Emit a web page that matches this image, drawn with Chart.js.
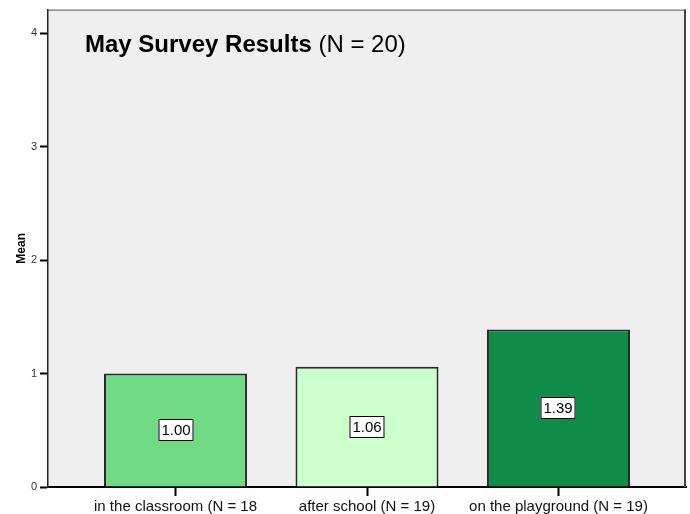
<!DOCTYPE html>
<html>
<head>
<meta charset="utf-8">
<script src="https://cdn.jsdelivr.net/npm/chart.js@4.4.1/dist/chart.umd.min.js"></script>
<style>
  html, body { margin: 0; padding: 0; background: #fff; }
</style>
</head>
<body>
<canvas id="chart" width="690" height="514"></canvas>
<script>
// category labels (the first one is cut off in the original output)
const categories = ['in the classroom (N = 18', 'after school (N = 19)', 'on the playground (N = 19)'];
// mean per category
const means = [1.00, 1.06, 1.39];
// y axis ticks
const yTicks = [0, 1, 2, 3, 4];
const yMax = 4.21;
const barColors = ['#71DA85', '#CCFFCC', '#0F8C47'];
const titleBold = 'May Survey Results';
const titleRest = ' (N = 20)';

const FONT = '"Liberation Sans", Arial, sans-serif';
Chart.defaults.font.family = FONT;

/**
 * grey plot background + top/right frame
 */
const plotFrame = {
    id: 'plotFrame',
    beforeDraw(chart) {
        const a = chart.chartArea;
        const ctx = chart.ctx;
        ctx.save();
        ctx.fillStyle = '#EFEFEF';
        ctx.fillRect(a.left, a.top, a.right - a.left, a.bottom - a.top);
        ctx.restore();
    },
    afterDraw(chart) {
        const a = chart.chartArea;
        const ctx = chart.ctx;
        ctx.save();
        ctx.strokeStyle = '#555';
        ctx.lineWidth = 1;
        ctx.beginPath();
        ctx.moveTo(a.left, a.top + 0.5);
        ctx.lineTo(a.right, a.top + 0.5);
        ctx.stroke();
        ctx.lineWidth = 2;
        ctx.strokeStyle = '#444';
        ctx.beginPath();
        ctx.moveTo(a.right - 1, a.top);
        ctx.lineTo(a.right - 1, a.bottom);
        ctx.stroke();
        ctx.restore();
    }
};

/**
 * title inside the plot: bold part + normal part
 */
const innerTitle = {
    id: 'innerTitle',
    afterDraw(chart) {
        const ctx = chart.ctx;
        ctx.save();
        ctx.fillStyle = '#000';
        ctx.textBaseline = 'alphabetic';
        ctx.textAlign = 'left';
        ctx.font = 'bold 24px ' + FONT;
        ctx.fillText(titleBold, 85, 52);
        const w = ctx.measureText(titleBold).width;
        ctx.font = '24px ' + FONT;
        ctx.fillText(titleRest, 85 + w, 52);
        ctx.restore();
    }
};

/**
 * boxed value labels in the middle of each bar
 */
const valueBoxes = {
    id: 'valueBoxes',
    afterDatasetsDraw(chart) {
        const ctx = chart.ctx;
        const meta = chart.getDatasetMeta(0);
        ctx.save();
        ctx.font = '15px ' + FONT;
        ctx.textAlign = 'center';
        ctx.textBaseline = 'middle';
        meta.data.forEach(function(bar, i) {
            const text = means[i].toFixed(2);
            const cy = Math.round((bar.y + bar.base) / 2);
            const cx = Math.round(bar.x);
            const w = Math.round(ctx.measureText(text).width + 6);
            const h = 22;
            ctx.fillStyle = '#fff';
            ctx.fillRect(cx - w / 2, cy - h / 2, w, h);
            ctx.strokeStyle = '#000';
            ctx.lineWidth = 1;
            ctx.strokeRect(cx - w / 2 + 0.5, cy - h / 2 + 0.5, w - 1, h - 1);
            ctx.fillStyle = '#000';
            ctx.fillText(text, cx, cy + 1);
        });
        ctx.restore();
    }
};

new Chart(document.getElementById('chart'), {
    type: 'bar',
    data: {
        datasets: [{
            data: means.map(function(v, i) { return { x: i, y: v }; }),
            backgroundColor: barColors,
            borderColor: '#2a2a2a',
            borderWidth: 2,
            barPercentage: 0.747,
            categoryPercentage: 1
        }]
    },
    options: {
        responsive: false,
        animation: false,
        devicePixelRatio: 1,
        layout: {
            padding: { top: 9, right: 4, left: 0, bottom: 0 }
        },
        plugins: {
            legend: { display: false },
            tooltip: { enabled: false }
        },
        scales: {
            x: {
                type: 'linear',
                min: -0.666,
                max: 2.666,
                offset: false,
                afterBuildTicks: function(scale) {
                    scale.ticks = categories.map(function(c, i) { return { value: i }; });
                },
                afterFit: function(scale) { scale.height = 27; },
                ticks: {
                    callback: function(value) { return categories[value]; },
                    font: { size: 15 },
                    color: '#111',
                    padding: 2,
                    maxRotation: 0,
                    autoSkip: false
                },
                grid: {
                    offset: false,
                    drawOnChartArea: false,
                    tickLength: 9,
                    tickWidth: 2,
                    tickColor: '#000'
                },
                border: { color: '#000', width: 2 }
            },
            y: {
                min: 0,
                max: yMax,
                afterBuildTicks: function(scale) {
                    scale.ticks = yTicks.map(function(v) { return { value: v }; });
                },
                afterFit: function(scale) { scale.width = 48; },
                ticks: {
                    font: { size: 11 },
                    color: '#333',
                    padding: 3
                },
                grid: {
                    drawOnChartArea: false,
                    tickLength: 8,
                    tickWidth: 2,
                    tickColor: '#000'
                },
                border: { color: '#222', width: 1.5 },
                title: {
                    display: true,
                    text: 'Mean',
                    color: '#000',
                    font: { size: 12, weight: 'bold' },
                    padding: { top: 14, bottom: 0 }
                }
            }
        }
    },
    plugins: [plotFrame, valueBoxes, innerTitle]
});
</script>
</body>
</html>
